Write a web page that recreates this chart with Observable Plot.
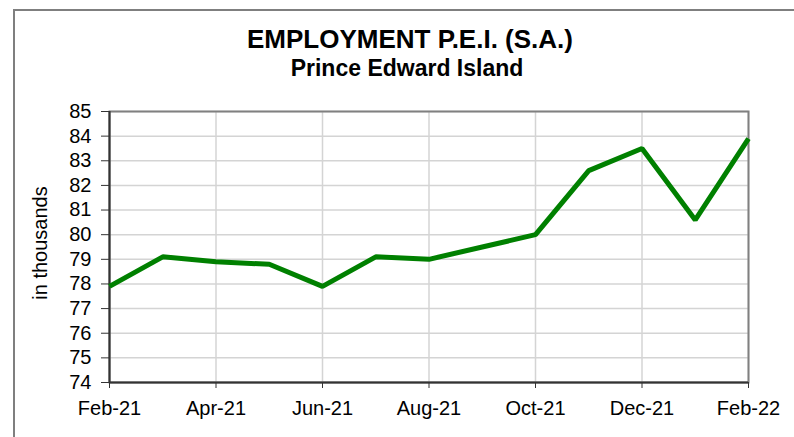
<!DOCTYPE html>
<html>
<head>
<meta charset="utf-8">
<script src="https://cdn.jsdelivr.net/npm/d3@7"></script>
<script src="https://cdn.jsdelivr.net/npm/@observablehq/plot@0.6"></script>
<style>
  html, body { margin: 0; padding: 0; background: #fff; }
  body { width: 794px; height: 437px; overflow: hidden; position: relative; font-family: "Liberation Sans", Arial, sans-serif; }
  #frame { position: absolute; left: 13px; top: 9px; width: 900px; height: 600px; border-left: 2px solid #7f7f7f; border-top: 2px solid #7f7f7f; pointer-events: none; }
  #header { display: block; }
  #chart svg { display: block; }
</style>
</head>
<body>
<div id="frame"></div>
<svg id="header" width="794" height="95"></svg>
<div id="chart"></div>
<script>
const titleText = "EMPLOYMENT P.E.I. (S.A.)";
const subtitleText = "Prince Edward Island";
const yLabel = "in thousands";
const months = ["Feb-21","Mar-21","Apr-21","May-21","Jun-21","Jul-21","Aug-21","Sep-21","Oct-21","Nov-21","Dec-21","Jan-22","Feb-22"];
const employment = [77.9, 79.1, 78.9, 78.8, 77.9, 79.1, 79.0, 79.5, 80.0, 82.6, 83.5, 80.6, 83.9];
const yTicks = [74,75,76,77,78,79,80,81,82,83,84,85];
const xTickIdx = [0,2,4,6,8,10,12];

const header = d3.select("#header");
header.append("text").attr("x", 410).attr("y", 48).attr("text-anchor", "middle")
  .attr("font-family", "Liberation Sans, Arial, sans-serif").attr("font-weight", "bold")
  .attr("font-size", 26).attr("fill", "#000").text(titleText);
header.append("text").attr("x", 407).attr("y", 76).attr("text-anchor", "middle")
  .attr("font-family", "Liberation Sans, Arial, sans-serif").attr("font-weight", "bold")
  .attr("font-size", 23).attr("fill", "#000").text(subtitleText);

const data = months.map((m, i) => ({i, month: m, value: employment[i]}));

const chart = Plot.plot({
  width: 794,
  height: 342,
  marginTop: 16,
  marginBottom: 55,
  marginLeft: 109,
  marginRight: 46,
  style: {fontFamily: "Liberation Sans, Arial, sans-serif", color: "#000", background: "transparent"},
  x: {type: "linear", domain: [0, 12]},
  y: {domain: [74, 85]},
  marks: [
    Plot.ruleY(yTicks, {stroke: "#d4d4d4", strokeWidth: 1.5}),
    Plot.ruleX(xTickIdx, {stroke: "#d4d4d4", strokeWidth: 1.5}),
    Plot.frame({stroke: "#808080", strokeWidth: 2}),
    Plot.ruleX([0], {stroke: "#333", strokeWidth: 2}),
    Plot.ruleY([74], {stroke: "#333", strokeWidth: 2}),
    Plot.axisY({ticks: yTicks, tickSize: 8, tickPadding: 10, fontSize: 20, label: null, stroke: "#333"}),
    Plot.axisX({ticks: xTickIdx, tickFormat: i => months[i], tickSize: 6, tickPadding: 12, fontSize: 20, label: null, stroke: "#333"}),
    Plot.text([yLabel], {text: d => d, frameAnchor: "left", textAnchor: "middle", dx: -69, dy: -4, rotate: -90, fontSize: 20, fill: "#000"}),
    Plot.line(data, {x: "i", y: "value", stroke: "#008000", strokeWidth: 5, strokeLinejoin: "miter", strokeLinecap: "butt"})
  ]
});
document.getElementById("chart").appendChild(chart);
</script>
</body>
</html>
